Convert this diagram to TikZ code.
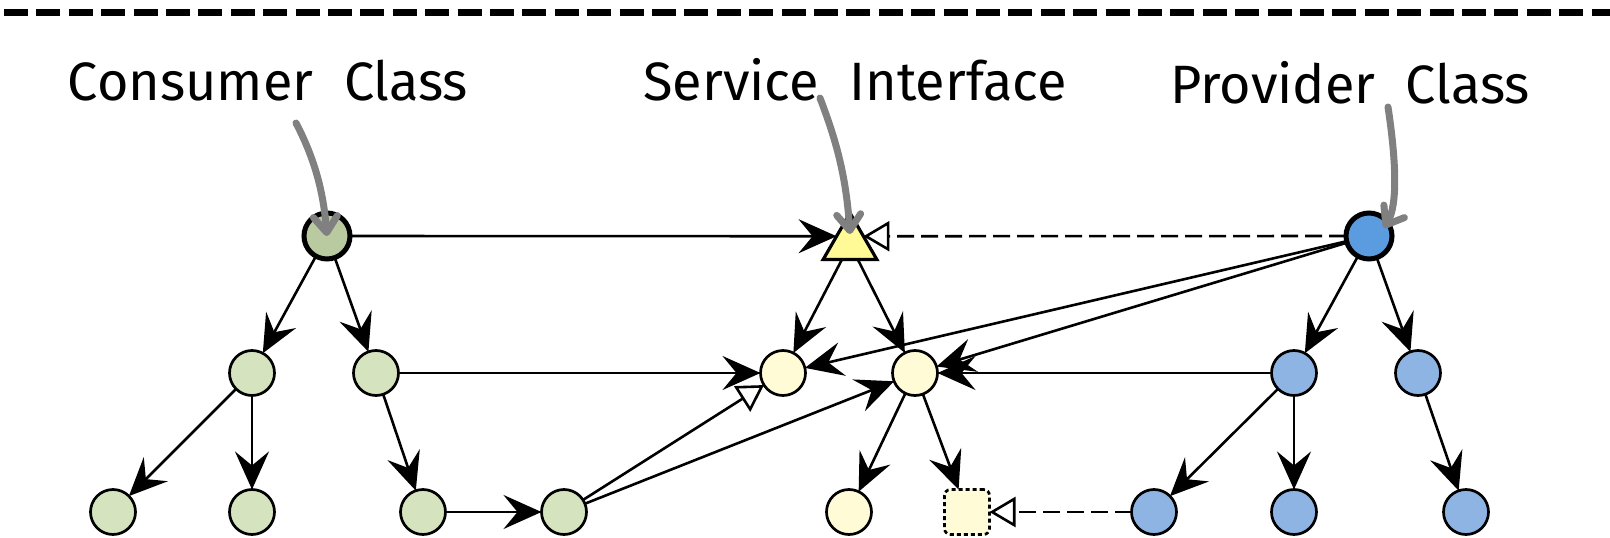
\documentclass[tikz,border=0pt]{standalone}
\usepackage{fontspec}
\setmainfont{Fira Sans}
\usetikzlibrary{arrows.meta,shapes.geometric}

\definecolor{consroot}{RGB}{185,201,160}
\definecolor{consnode}{RGB}{213,227,190}
\definecolor{servtri}{RGB}{255,250,150}
\definecolor{servnode}{RGB}{255,251,214}
\definecolor{provroot}{RGB}{91,155,224}
\definecolor{provnode}{RGB}{142,180,227}
\definecolor{pointergray}{RGB}{128,128,128}

\begin{document}
\begin{tikzpicture}[x=1pt, y=-1pt,
  every node/.style={inner sep=0pt, outer sep=0pt},
  dot/.style={circle, draw, line width=2.7pt, minimum size=45pt},
  root/.style={circle, draw, line width=5pt, minimum size=46pt},
  title/.style={anchor=base, font=\fontsize{54}{60}\selectfont},
  uses/.style={line width=2.6pt, -{Stealth[length=38pt, width=34pt, inset=14pt]}},
  extends/.style={line width=2.6pt, -{Triangle[length=26pt, width=30pt, fill=white]}},
  implements/.style={extends, dash pattern=on 17pt off 7pt},
  pointer/.style={pointergray, line width=7pt, line cap=round,
    -{Straight Barb[length=16pt, width=24pt, round]}}]

\def\ya{236};
\def\yb{373};
\def\yc{512};
\def\yt{100};

\useasboundingbox (0,0) rectangle (1610,538);

\draw[line width=7pt, dash pattern=on 24pt off 8.4pt] (4,12) -- (1610,12);

\node[title] (lc) at (268, \yt) {Consumer\hspace{0.3em} Class};
\node[title] (ls) at (855, \yt) {Service\hspace{0.3em} Interface};
\node[title] (lp) at (1350, \yt+3) {Provider\hspace{0.3em} Class};

% consumer side
\node[root, fill=consroot] (c0) at (327, \ya) {};
\node[dot, fill=consnode] (c1) at (252, \yb) {};
\node[dot, fill=consnode] (c2) at (376, \yb) {};
\node[dot, fill=consnode] (c3) at (113, \yc) {};
\node[dot, fill=consnode] (c4) at (252, \yc) {};
\node[dot, fill=consnode] (c5) at (423, \yc) {};
\node[dot, fill=consnode] (c6) at (564, \yc) {};

% service side
\node[regular polygon, regular polygon sides=3, draw, line width=3.2pt,
  fill=servtri, minimum size=62pt] (s0) at (850, 244) {};
\node[dot, fill=servnode] (s1) at (783, \yb) {};
\node[dot, fill=servnode] (s2) at (915, \yb) {};
\node[dot, fill=servnode] (s3) at (849, \yc) {};
\node[rectangle, rounded corners=6pt, draw, line width=2.7pt,
  dash pattern=on 4pt off 3pt, fill=servnode, minimum size=45pt] (s4) at (967, \yc) {};

% provider side
\node[root, fill=provroot] (p0) at (1369, \ya) {};
\node[dot, fill=provnode] (p1) at (1294, \yb) {};
\node[dot, fill=provnode] (p2) at (1418, \yb) {};
\node[dot, fill=provnode] (p3) at (1154, \yc) {};
\node[dot, fill=provnode] (p4) at (1294, \yc) {};
\node[dot, fill=provnode] (p5) at (1466, \yc) {};

\draw[uses] (c0) -- (s0.side 1);
\draw[implements] (p0) -- (s0.side 3);

\draw[uses] (c0) -- (c1);
\draw[uses] (c0) -- (c2);
\draw[uses] (c1) -- (c3);
\draw[uses] (c1) -- (c4);
\draw[uses] (c2) -- (c5);
\draw[uses] (c2) -- (s1);
\draw[uses] (c5) -- (c6);
\draw[extends] (c6) -- (s1);
\draw[uses] (c6) -- (s2);

\draw[uses] (s0) -- (s1);
\draw[uses] (s0) -- (s2);
\draw[uses] (s2) -- (s3);
\draw[uses] (s2) -- (s4);

\draw[uses] (p0) -- (s1);
\draw[uses] (p0) -- (s2);
\draw[uses] (p0) -- (p1);
\draw[uses] (p0) -- (p2);
\draw[uses] (p1) -- (s2);
\draw[uses] (p1) -- (p3);
\draw[uses] (p1) -- (p4);
\draw[uses] (p2) -- (p5);
\draw[implements] (p3) -- (s4);

\coordinate (gc) at (296, 123);
\coordinate (gs) at (820, 98);
\coordinate (gp) at (1388, 107);
\draw[pointer] (gc) .. controls (318, 165) and (324, 200) .. (c0.center);
\draw[pointer] (gs) .. controls (836, 140) and (846, 175) .. ([yshift=10pt]s0.center);
\draw[pointer] (gp) .. controls (1396, 160) and (1398, 205) .. ([shift={(15pt,8pt)}]p0.center);

\end{tikzpicture}
\end{document}
